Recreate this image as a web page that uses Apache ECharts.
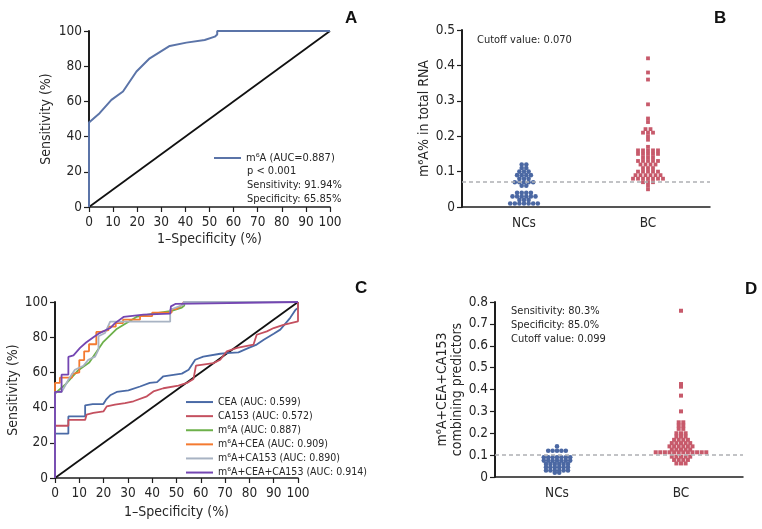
<!DOCTYPE html>
<html><head><meta charset="utf-8">
<script src="https://cdn.jsdelivr.net/npm/echarts@6/dist/echarts.min.js"></script>
<style>html,body{margin:0;padding:0;background:#fff}#c{width:762px;height:529px}</style>
</head><body><div id="c"></div>
<script>
// ---------- DATA ----------
// Panel A: m6A ROC curve [1-specificity %, sensitivity %]
const rocM6A = [[0,0],[0,48],[4.4,53.3],[9.3,60.9],[14.1,65.6],[19.7,77],[25.2,84.5],[33.5,91.5],[40.4,93.4],[48,94.9],[52.2,96.8],[53.2,98],[53.2,100],[100,100]];
const refLine = [[0,0],[100,100]];
const legendA = 'm\u2076A (AUC=0.887)';
const statsA = ['p < 0.001','Sensitivity: 91.94%','Specificity: 65.85%'];

// Panel B: m6A% in total RNA
const groups = ['NCs','BC'];
const ncB = [0.12,0.12,0.11,0.11,0.10,0.10,0.10,0.09,0.09,0.09,0.09,0.08,0.08,0.08,
  0.07,0.07,0.07,0.07,0.07,0.06,0.06,0.04,0.04,0.04,0.04,0.03,0.03,0.03,0.03,0.03,0.03,
  0.02,0.02,0.02,0.01,0.01,0.01,0.01,0.01,0.01,0.01];
const bcB = [0.42,0.38,0.36,0.29,0.25,0.24,0.22,0.22,0.21,0.21,0.21,0.20,0.19,0.17,
  0.16,0.16,0.16,0.16,0.16,0.15,0.15,0.15,0.15,0.15,0.14,0.14,0.14,
  0.13,0.13,0.13,0.13,0.13,0.12,0.12,0.12,0.12,0.11,0.11,0.11,
  0.10,0.10,0.10,0.10,0.10,0.09,0.09,0.09,0.09,0.09,0.09,
  0.08,0.08,0.08,0.08,0.08,0.08,0.08,0.07,0.07,0.07,0.06,0.05];
const cutoffB = 0.07;
const noteB = 'Cutoff value: 0.070';

// Panel C: ROC curves
const rocCEA = [[0,0],[0,25.2],[5.5,25.2],[5.5,35],[12.4,35],[12.4,41.3],[15.5,42],[19.9,42],[21,44.5],[22.7,47],[25.4,48.9],[30.2,49.8],[35,52],[39,54],[42,54.5],[44.6,57.8],[52.2,59.3],[55,61.5],[57.7,67.2],[61,69],[68,70.6],[70.7,71],[75.5,71.4],[79.7,73.9],[83,75.8],[85.9,78.6],[90,82],[92.7,84.3],[96.8,91],[99,95.6],[100,96.6],[100,100]];
const rocCA153 = [[0,0],[0,29.7],[5.5,29.7],[5.5,33],[12.4,33],[13,36],[15.8,37],[20,37.9],[21.3,40.7],[24.7,41.7],[28.8,42.6],[32.3,43.6],[37.8,46.4],[40.5,49.2],[44.6,51],[50.8,52.5],[54.3,54],[57,56.3],[58,63.8],[65.2,65.3],[68,67.2],[70.7,72],[74.9,73.9],[81.7,75.8],[83,81.4],[87.2,83.3],[90,85.2],[94,87],[100,89],[100,100]];
const rocM6ACEA = [[0,0],[0,54],[2,54],[2,57],[7,57],[7,59],[10,60],[10,67],[12,67],[12,72],[14,72],[14,76],[17,76],[17,83],[19,83],[19,84],[22,84],[22,86],[25,86],[25,88],[28,88],[28,90],[35,90],[35,92],[40,92],[40,94],[48,94],[48,96],[50,96],[52,98],[53,100],[100,100]];
const rocM6ACA153 = [[0,0],[0,48.9],[2.7,48.9],[4,52],[5.5,55.9],[8.2,61.5],[11.7,63.8],[13.7,67.2],[16.5,69],[17.9,73],[17.9,80.5],[20.6,82.4],[22.7,88.8],[47.4,88.8],[47.4,95.6],[52.9,98.5],[52.9,100],[100,100]];
const rocAll = [[0,0],[0,48.9],[2.7,48.9],[2.7,58.7],[5.5,58.7],[5.5,68.8],[7.6,69.7],[10.3,73.9],[12.8,77],[15.8,80],[17.9,82],[22.7,85.2],[24.7,88],[28.2,91.5],[36.4,92.8],[47.4,93.4],[47.7,97.5],[49.5,98.9],[50.1,100],[100,100]];
const namesC = ['CEA (AUC: 0.599)','CA153 (AUC: 0.572)','m\u2076A (AUC: 0.887)','m\u2076A+CEA (AUC: 0.909)','m\u2076A+CA153 (AUC: 0.890)','m\u2076A+CEA+CA153 (AUC: 0.914)'];

// Panel D: combined predictor
const ncD = [0.14,0.12,0.12,0.12,0.12,0.12,0.09,0.09,0.09,0.09,0.09,0.09,0.09,
  0.075,0.075,0.075,0.075,0.075,0.075,0.075,0.06,0.06,0.06,0.06,0.06,0.06,
  0.045,0.045,0.045,0.045,0.045,0.045,0.03,0.03,0.03,0.03,0.03,0.03,0.02,0.02];
const bcD = [0.76,0.425,0.413,0.372,0.30,0.25,0.25,0.235,0.235,0.22,0.22,0.20,0.20,0.20,
  0.185,0.185,0.185,0.17,0.17,0.17,0.17,0.155,0.155,0.155,0.155,0.155,
  0.14,0.14,0.14,0.14,0.14,0.14,0.125,0.125,0.125,0.125,0.125,
  0.113,0.113,0.113,0.113,0.113,0.113,0.113,0.113,0.113,0.113,0.113,0.113,
  0.093,0.093,0.093,0.093,0.093,0.078,0.078,0.078,0.078,0.062,0.062,0.062];
const cutoffD = 0.099;
const noteD = ['Sensitivity: 80.3%','Specificity: 85.0%','Cutoff value: 0.099'];

// ---------- STYLE ----------
const FONT = "'Liberation Sans Narrow','DejaVu Sans Condensed',sans-serif";
const BLUE = '#4b68a3', RED = '#c75a6b';
const CCOL = ['#4a6aa6','#c4505f','#6db04a','#f47a30','#a8b3c3','#7446b2'];
const AX = '#1e1e1e', TXT = '#262626';

// beeswarm: rows of equal value spread horizontally about the group centre
function swarm(values, center, pxStep, pxPerUnit) {
  const rows = new Map();
  values.forEach(v => { const k = v.toFixed(3); if (!rows.has(k)) rows.set(k, []); rows.get(k).push(v); });
  const out = [];
  rows.forEach(list => { const n = list.length; list.forEach((v, i) => out.push([center + (i - (n - 1) / 2) * pxStep / pxPerUnit, v])); });
  return out;
}

function valX(gi, name, gap) {
  return { type:'value', gridIndex:gi, min:0, max:100, interval:10, name:name, nameLocation:'middle', nameGap:gap,
    nameTextStyle:{fontFamily:FONT, fontSize:14, color:TXT},
    axisLine:{onZero:false, lineStyle:{color:AX, width:1.5}}, axisTick:{length:5, lineStyle:{color:AX, width:1.2}},
    axisLabel:{fontFamily:FONT, fontSize:13.5, color:TXT, margin:8}, splitLine:{show:false} };
}
function valY(gi, max, interval, name, gap) {
  return { type:'value', gridIndex:gi, min:0, max:max, interval:interval, name:name, nameLocation:'middle', nameGap:gap,
    nameTextStyle:{fontFamily:FONT, fontSize:14, color:TXT, lineHeight:15},
    axisLine:{show:true, onZero:false, lineStyle:{color:AX, width:2}}, axisTick:{show:true, length:5, lineStyle:{color:AX, width:1.2}},
    axisLabel:{fontFamily:FONT, fontSize:13.5, color:TXT, margin:7}, splitLine:{show:false} };
}
function catX(gi) {
  return { type:'category', gridIndex:gi, data:groups, boundaryGap:true,
    axisLine:{onZero:false, lineStyle:{color:AX, width:1.5}}, axisTick:{alignWithLabel:true, length:5, lineStyle:{color:AX, width:1.2}},
    axisLabel:{fontFamily:FONT, fontSize:13.5, color:TXT, margin:9} };
}
function hidX(gi) { return { type:'value', gridIndex:gi, min:-0.5, max:1.5, show:false, axisLine:{onZero:false}, splitLine:{show:false} }; }

function rocSeries(name, data, color, xi, yi, w) {
  return { type:'line', name:name, data:data, xAxisIndex:xi, yAxisIndex:yi, symbol:'none', showSymbol:false,
    lineStyle:{color:color, width:w || 1.8}, itemStyle:{color:color}, silent:true, animation:false };
}
function cutLine(v) {
  return { silent:true, symbol:['none','none'], label:{show:false},
    lineStyle:{type:[4,3], color:'#aeb0b4', width:1.5}, data:[{yAxis:v}] };
}

const pxB = 248 / 2, pxD = 248 / 2;
const letter = (t, l, tp) => ({ text:t, left:l, top:tp, textStyle:{fontFamily:"'Liberation Sans',Arial,sans-serif", fontSize:17, fontWeight:'bold', color:'#111'} });
const note = (t, l, tp, lh) => ({ text:t, left:l, top:tp, textStyle:{fontFamily:FONT, fontSize:11, fontWeight:'normal', color:TXT, lineHeight:lh} });

const option = {
  animation:false,
  title:[
    letter('A', 340, 5), letter('B', 709, 5), letter('C', 350, 275), letter('D', 740, 276),
    note(statsA.join('\n'), 242, 159, 14),
    note(noteB, 472, 28, 14),
    note(noteD.join('\n'), 506, 299, 14.2)
  ],
  legend:[
    { data:[legendA], left:209, top:146, orient:'vertical', icon:'rect', itemWidth:27, itemHeight:2, itemGap:0,
      textStyle:{fontFamily:FONT, fontSize:11, color:TXT, lineHeight:14}, selectedMode:false },
    { data:namesC, left:181, top:390, orient:'vertical', icon:'rect', itemWidth:27, itemHeight:2, itemGap:0,
      textStyle:{fontFamily:FONT, fontSize:10.5, color:TXT, lineHeight:14.1}, selectedMode:false }
  ],
  grid:[
    { left:89, top:31, width:241, height:176 },
    { left:462, top:30, width:248, height:177 },
    { left:55, top:302, width:243, height:176 },
    { left:495, top:302, width:248, height:175 }
  ],
  xAxis:[ valX(0, '1\u2013Specificity (%)', 25), catX(1), hidX(1), valX(2, '1\u2013Specificity (%)', 27), catX(3), hidX(3) ],
  yAxis:[
    valY(0, 100, 20, 'Sensitivity (%)', 35),
    valY(1, 0.5, 0.1, 'm\u2076A% in total RNA', 30),
    valY(2, 100, 20, 'Sensitivity (%)', 32),
    valY(3, 0.8, 0.1, 'm\u2076A+CEA+CA153\ncombining predictors', 28)
  ],
  series:[
    rocSeries('diagA', refLine, '#111', 0, 0, 1.8),
    rocSeries(legendA, rocM6A, '#5b74a8', 0, 0, 2),
    { type:'scatter', name:'ncB', xAxisIndex:2, yAxisIndex:1, data:swarm(ncB, 0, 4.6, pxB), symbol:'circle', symbolSize:4.6,
      itemStyle:{color:BLUE, opacity:1}, markLine:cutLine(cutoffB), silent:true, z:3 },
    { type:'scatter', name:'bcB', xAxisIndex:2, yAxisIndex:1, data:swarm(bcB, 1, 5, pxB), symbol:'rect', symbolSize:3.8,
      itemStyle:{color:RED, opacity:1}, silent:true, z:3 },
    rocSeries('diagC', refLine, '#111', 3, 2, 1.8),
    rocSeries(namesC[0], rocCEA, CCOL[0], 3, 2),
    rocSeries(namesC[1], rocCA153, CCOL[1], 3, 2),
    rocSeries(namesC[2], rocM6A, CCOL[2], 3, 2),
    rocSeries(namesC[3], rocM6ACEA, CCOL[3], 3, 2),
    rocSeries(namesC[4], rocM6ACA153, CCOL[4], 3, 2),
    rocSeries(namesC[5], rocAll, CCOL[5], 3, 2),
    { type:'scatter', name:'ncD', xAxisIndex:5, yAxisIndex:3, data:swarm(ncD, 0, 4.4, pxD), symbol:'circle', symbolSize:4.6,
      itemStyle:{color:BLUE, opacity:1}, markLine:cutLine(cutoffD), silent:true, z:3 },
    { type:'scatter', name:'bcD', xAxisIndex:5, yAxisIndex:3, data:swarm(bcD, 1, 4.6, pxD), symbol:'rect', symbolSize:4,
      itemStyle:{color:RED, opacity:1}, silent:true, z:3 }
  ]
};
const chart = echarts.init(document.getElementById('c'), null, {renderer:'canvas'});
chart.setOption(option);
</script></body></html>
